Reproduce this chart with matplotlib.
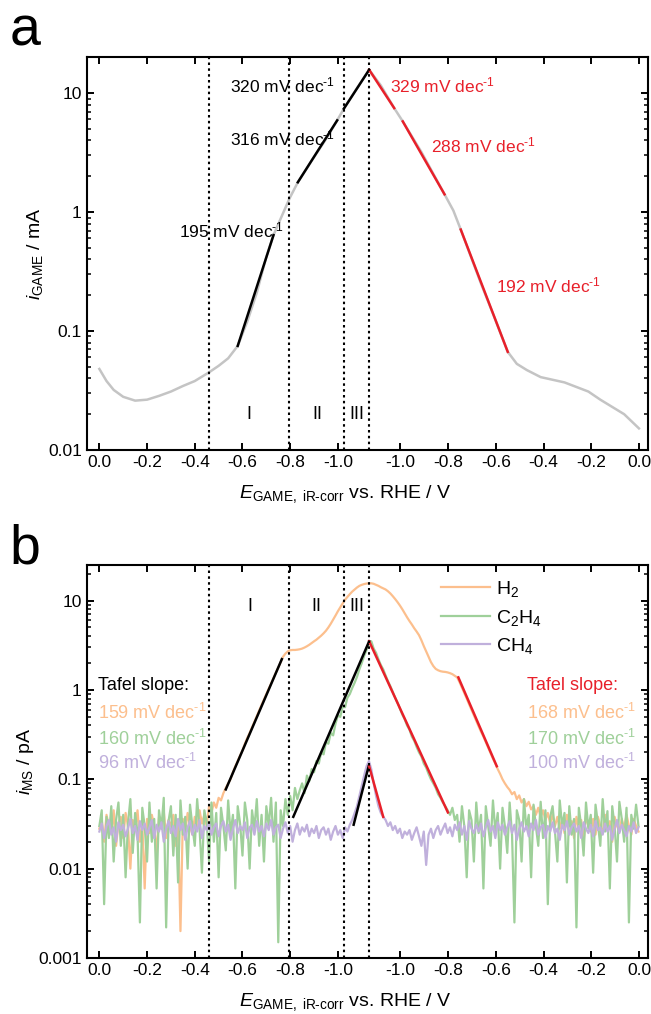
import numpy as np
import matplotlib
matplotlib.use("Agg")
import matplotlib.pyplot as plt
from matplotlib.ticker import FixedLocator, FixedFormatter, LogLocator, NullFormatter

plt.rcParams['font.family'] = ['Liberation Sans', 'DejaVu Sans']
plt.rcParams['mathtext.fontset'] = 'custom'
plt.rcParams['mathtext.rm'] = 'Liberation Sans'
plt.rcParams['mathtext.it'] = 'Liberation Sans:italic'

# sweep: 0 V -> -1.131 V -> 0 V, x axis is the path along the sweep
E_turn = 1.131
region_lines = [0.459, 0.797, 1.026, 1.131]
pot_labels = ["0.0", "-0.2", "-0.4", "-0.6", "-0.8", "-1.0"]
pot_values = [0.0, 0.2, 0.4, 0.6, 0.8, 1.0]

# panel a: GAME current (mA) along the sweep
s_game = [0.0, 0.03, 0.06, 0.10, 0.15, 0.20, 0.25, 0.30, 0.35, 0.40, 0.46, 0.50, 0.54,
          0.58, 0.62, 0.66, 0.70, 0.73, 0.76, 0.797, 0.832, 0.90, 0.95, 0.997, 1.025,
          1.08, 1.131, 1.18, 1.236, 1.272, 1.35, 1.447, 1.484, 1.515, 1.60, 1.65,
          1.712, 1.75, 1.792, 1.85, 1.95, 2.05, 2.10, 2.20, 2.262]
i_game = [0.048, 0.038, 0.032, 0.028, 0.026, 0.0265, 0.0285, 0.031, 0.0345, 0.038, 0.045,
          0.051, 0.059, 0.075, 0.12, 0.21, 0.42, 0.64, 0.88, 1.30, 1.78, 2.9, 4.1, 5.9, 7.4,
          11.0, 15.7, 11.6, 7.48, 5.78, 3.2, 1.41, 1.03, 0.713, 0.25, 0.14,
          0.0669, 0.053, 0.047, 0.041, 0.037, 0.031, 0.0265, 0.020, 0.0152]

# Tafel fit segments in panel a: (s start, i start, s end, i end, label)
fits_a_fwd = [(0.58, 0.075, 0.73, 0.64, "195"),
              (0.832, 1.78, 0.997, 5.9, "316"),
              (1.025, 7.4, 1.131, 15.7, "320")]
fits_a_rev = [(1.131, 15.7, 1.236, 7.48, "329"),
              (1.272, 5.78, 1.447, 1.41, "288"),
              (1.515, 0.713, 1.712, 0.0669, "192")]

# panel b: mass spec currents (pA), one value every 10 mV of sweep path
s_ms = np.round(np.arange(227) * 0.01, 2)
h2 = [0.028, 0.035, 0.020, 0.040, 0.030, 0.025, 0.045, 0.018, 0.032, 0.038,
      0.022, 0.042, 0.030, 0.010, 0.035, 0.028, 0.045, 0.020, 0.033, 0.006,
      0.036, 0.025, 0.040, 0.030, 0.015, 0.038, 0.028, 0.044, 0.022, 0.035,
      0.030, 0.040, 0.018, 0.032, 0.002, 0.036, 0.026, 0.042, 0.030, 0.024,
      0.038, 0.028, 0.045, 0.032, 0.040, 0.030, 0.050, 0.042, 0.055, 0.048,
      0.062, 0.058, 0.070, 0.080, 0.090, 0.100, 0.120, 0.140, 0.160, 0.185,
      0.210, 0.250, 0.290, 0.330, 0.380, 0.440, 0.510, 0.590, 0.680, 0.780,
      0.900, 1.030, 1.180, 1.360, 1.560, 1.780, 2.050, 2.350, 2.550, 2.700,
      2.780, 2.800, 2.800, 2.820, 2.850, 2.900, 2.980, 3.080, 3.200, 3.350,
      3.50, 3.65, 3.85, 4.05, 4.30, 4.60, 5.00, 5.50, 6.10, 6.80,
      7.60, 8.40, 9.30, 10.2, 11.0, 11.8, 12.6, 13.3, 14.0, 14.6,
      15.0, 15.3, 15.5, 15.6, 15.6, 15.4, 15.0, 14.6, 14.1, 13.7,
      13.3, 12.7, 12.0, 11.2, 10.4, 9.60, 8.80, 8.00, 7.20, 6.50,
      5.90, 5.40, 4.90, 4.50, 4.10, 3.60, 3.10, 2.70, 2.35, 2.05,
      1.85, 1.72, 1.66, 1.62, 1.60, 1.59, 1.57, 1.54, 1.50, 1.44,
      1.38, 1.22, 1.06, 0.920, 0.800, 0.690, 0.600, 0.520, 0.450, 0.390,
      0.340, 0.300, 0.260, 0.225, 0.195, 0.170, 0.150, 0.130, 0.115, 0.100,
      0.090, 0.082, 0.076, 0.068, 0.072, 0.060, 0.066, 0.055, 0.060, 0.050,
      0.056, 0.046, 0.050, 0.040, 0.048, 0.038, 0.045, 0.035, 0.042, 0.032,
      0.040, 0.030, 0.038, 0.028, 0.036, 0.025, 0.040, 0.030, 0.034, 0.022,
      0.038, 0.028, 0.035, 0.020, 0.040, 0.030, 0.026, 0.036, 0.024, 0.038,
      0.030, 0.025, 0.040, 0.028, 0.034, 0.020, 0.038, 0.030, 0.026, 0.036,
      0.028, 0.040, 0.030, 0.024, 0.036, 0.030, 0.026]
c2h4 = [0.030, 0.045, 0.004, 0.038, 0.022, 0.050, 0.012, 0.035, 0.055, 0.018,
        0.040, 0.008, 0.032, 0.060, 0.015, 0.042, 0.025, 0.0025, 0.048, 0.030,
        0.012, 0.055, 0.020, 0.036, 0.006, 0.045, 0.028, 0.062, 0.0022, 0.034,
        0.050, 0.014, 0.040, 0.007, 0.058, 0.024, 0.038, 0.010, 0.052, 0.030,
        0.018, 0.060, 0.028, 0.009, 0.045, 0.033, 0.012, 0.055, 0.020, 0.042,
        0.008, 0.048, 0.030, 0.016, 0.058, 0.025, 0.040, 0.006, 0.050, 0.032,
        0.014, 0.055, 0.035, 0.010, 0.045, 0.028, 0.060, 0.018, 0.040, 0.012,
        0.050, 0.030, 0.062, 0.020, 0.055, 0.0015, 0.045, 0.030, 0.060, 0.040,
        0.065, 0.045, 0.080, 0.060, 0.075, 0.090, 0.070, 0.110, 0.095, 0.130,
        0.120, 0.160, 0.150, 0.200, 0.190, 0.260, 0.250, 0.330, 0.310, 0.420,
        0.520, 0.500, 0.650, 0.640, 0.820, 0.900, 1.050, 1.200, 1.400, 1.700,
        2.000, 2.400, 2.800, 3.300, 3.500, 2.900, 2.600, 2.200, 1.900, 1.700,
        1.450, 1.250, 1.100, 0.950, 0.820, 0.720, 0.620, 0.530, 0.470, 0.400,
        0.360, 0.300, 0.270, 0.230, 0.200, 0.180, 0.150, 0.135, 0.115, 0.100,
        0.090, 0.080, 0.068, 0.062, 0.055, 0.050, 0.045, 0.040, 0.048, 0.035,
        0.040, 0.020, 0.050, 0.030, 0.008, 0.045, 0.035, 0.012, 0.055, 0.025,
        0.040, 0.006, 0.050, 0.030, 0.018, 0.058, 0.026, 0.042, 0.010, 0.048,
        0.030, 0.015, 0.055, 0.024, 0.0025, 0.045, 0.035, 0.012, 0.060, 0.028,
        0.040, 0.008, 0.052, 0.030, 0.018, 0.056, 0.022, 0.045, 0.004, 0.038,
        0.050, 0.026, 0.012, 0.058, 0.030, 0.042, 0.007, 0.050, 0.024, 0.036,
        0.0022, 0.048, 0.030, 0.014, 0.055, 0.028, 0.040, 0.009, 0.052, 0.032,
        0.018, 0.060, 0.026, 0.044, 0.006, 0.050, 0.030, 0.012, 0.056, 0.036,
        0.020, 0.048, 0.0025, 0.040, 0.028, 0.052, 0.030]
ch4 = [0.026, 0.032, 0.022, 0.030, 0.035, 0.024, 0.029, 0.020, 0.033, 0.027,
       0.031, 0.023, 0.028, 0.036, 0.025, 0.030, 0.021, 0.034, 0.027, 0.032,
       0.024, 0.029, 0.035, 0.022, 0.031, 0.026, 0.033, 0.020, 0.028, 0.034,
       0.025, 0.030, 0.023, 0.036, 0.027, 0.032, 0.021, 0.029, 0.034, 0.024,
       0.031, 0.026, 0.035, 0.022, 0.030, 0.027, 0.033, 0.024, 0.029, 0.032,
       0.023, 0.030, 0.034, 0.026, 0.031, 0.021, 0.028, 0.035, 0.025, 0.030,
       0.027, 0.033, 0.022, 0.029, 0.031, 0.024, 0.034, 0.026, 0.030, 0.023,
       0.032, 0.027, 0.035, 0.024, 0.029, 0.031, 0.022, 0.028, 0.033, 0.025,
       0.030, 0.020, 0.027, 0.032, 0.024, 0.029, 0.026, 0.031, 0.023, 0.028,
       0.025, 0.030, 0.022, 0.027, 0.029, 0.024, 0.028, 0.021, 0.026, 0.030,
       0.024, 0.027, 0.022, 0.029, 0.026, 0.031, 0.035, 0.042, 0.050, 0.065,
       0.085, 0.110, 0.140, 0.160, 0.130, 0.090, 0.065, 0.050, 0.042, 0.038,
       0.035, 0.030, 0.033, 0.027, 0.030, 0.025, 0.028, 0.022, 0.026, 0.024,
       0.027, 0.021, 0.025, 0.029, 0.023, 0.018, 0.026, 0.011, 0.024, 0.028,
       0.022, 0.027, 0.030, 0.024, 0.028, 0.032, 0.025, 0.029, 0.023, 0.031,
       0.027, 0.033, 0.024, 0.030, 0.021, 0.034, 0.028, 0.025, 0.031, 0.026,
       0.032, 0.023, 0.029, 0.035, 0.026, 0.030, 0.022, 0.033, 0.027, 0.031,
       0.024, 0.029, 0.034, 0.025, 0.031, 0.021, 0.028, 0.033, 0.026, 0.030,
       0.023, 0.032, 0.027, 0.035, 0.024, 0.029, 0.031, 0.022, 0.030, 0.026,
       0.033, 0.025, 0.028, 0.021, 0.031, 0.027, 0.034, 0.024, 0.029, 0.032,
       0.026, 0.030, 0.022, 0.033, 0.028, 0.025, 0.031, 0.023, 0.034, 0.027,
       0.029, 0.024, 0.032, 0.026, 0.030, 0.021, 0.028, 0.035, 0.025, 0.031,
       0.027, 0.023, 0.030, 0.026, 0.033, 0.025, 0.029]

# Tafel fits panel b: (s start, i start, s end, i end)
fits_b_fwd = {"H2": (0.530, 0.077, 0.765, 2.21),
              "C2H4": (0.813, 0.038, 1.131, 3.5),
              "CH4": (1.066, 0.031, 1.129, 0.14)}
fits_b_rev = {"H2": (1.505, 1.38, 1.666, 0.14),
              "C2H4": (1.131, 3.5, 1.461, 0.0426),
              "CH4": (1.131, 0.14, 1.19, 0.038)}
slopes_fwd = {"H2": "159", "C2H4": "160", "CH4": "96"}
slopes_rev = {"H2": "168", "C2H4": "170", "CH4": "100"}

colors = {"H2": "#fcbf8d", "C2H4": "#9fd09a", "CH4": "#c0b0dc"}
red = "#e8202a"
gray = "#c4c4c4"
dec = r" mV dec$^{\text{-}1}$"

fig = plt.figure(figsize=(6.51, 10.14), dpi=100)
ax_a = fig.add_axes([0.1332, 0.5562, 0.8622, 0.3873])
ax_b = fig.add_axes([0.1332, 1 - 958 / 1014, 0.8622, 393 / 1014])

tick_pos = [p for p in pot_values] + [2 * E_turn - p for p in pot_values[::-1]]
tick_lab = pot_labels + pot_labels[::-1]


def style_axis(ax, ylo, yhi, yticks, ylabels):
    ax.set_yscale("log")
    ax.set_xlim(-0.053, 2 * E_turn + 0.038)
    ax.set_ylim(ylo, yhi)
    ax.xaxis.set_major_locator(FixedLocator(tick_pos))
    ax.xaxis.set_major_formatter(FixedFormatter(tick_lab))
    ax.yaxis.set_major_locator(FixedLocator(yticks))
    ax.yaxis.set_major_formatter(FixedFormatter(ylabels))
    ax.yaxis.set_minor_locator(LogLocator(base=10, subs=np.arange(2, 10)))
    ax.yaxis.set_minor_formatter(NullFormatter())
    ax.tick_params(which="both", direction="in", top=True, right=True, labelsize=12.5)
    ax.tick_params(which="major", length=5, width=1.4)
    ax.tick_params(which="minor", length=3, width=1.1)
    for sp in ax.spines.values():
        sp.set_linewidth(1.5)
    for xv in region_lines:
        ax.axvline(xv, color="black", ls=(0, (1.2, 1.6)), lw=1.5, zorder=5)
    ax.set_xlabel(r"$E_{\rm GAME,\ iR\text{-}corr}$ vs. RHE / V", fontsize=14, labelpad=8)
    ax.xaxis.set_label_coords(0.46, -0.085)


# ---- panel a ----
ax_a.plot(s_game, i_game, color=gray, lw=1.8, zorder=2)
for s0, i0, s1, i1, lab in fits_a_fwd:
    ax_a.plot([s0, s1], [i0, i1], color="black", lw=1.8, zorder=3)
for s0, i0, s1, i1, lab in fits_a_rev:
    ax_a.plot([s0, s1], [i0, i1], color=red, lw=1.8, zorder=3)
style_axis(ax_a, 0.01, 20, [0.01, 0.1, 1, 10], ["0.01", "0.1", "1", "10"])
ax_a.set_ylabel(r"$i_{\rm GAME}$ / mA", fontsize=14, labelpad=2)

txt_a = [(0.548, 11.6, "320", "black"), (0.548, 4.19, "316", "black"),
         (0.334, 0.703, "195", "black"), (1.220, 11.6, "329", red),
         (1.391, 3.64, "288", red), (1.663, 0.24, "192", red)]
for x, y, lab, c in txt_a:
    ax_a.text(x, y, lab + dec, color=c, fontsize=12.5, va="center", ha="left", zorder=6)
for x, lab in [(0.628, "I"), (0.912, "II"), (1.079, "III")]:
    ax_a.text(x, 0.0197, lab, fontsize=13, ha="center", va="center")

# ---- panel b ----
for gas, vals, lab in [("H2", h2, r"H$_2$"), ("C2H4", c2h4, r"C$_2$H$_4$"), ("CH4", ch4, r"CH$_4$")]:
    ax_b.plot(s_ms, vals, color=colors[gas], lw=1.6, label=lab, zorder=2)
for gas in ["H2", "C2H4", "CH4"]:
    s0, i0, s1, i1 = fits_b_fwd[gas]
    ax_b.plot([s0, s1], [i0, i1], color="black", lw=1.8, zorder=3)
    s0, i0, s1, i1 = fits_b_rev[gas]
    ax_b.plot([s0, s1], [i0, i1], color=red, lw=1.8, zorder=3)
style_axis(ax_b, 0.001, 25, [0.001, 0.01, 0.1, 1, 10], ["0.001", "0.01", "0.1", "1", "10"])
ax_b.set_ylabel(r"$i_{\rm MS}$ / pA", fontsize=14, labelpad=2)

ax_b.legend(loc="upper left", bbox_to_anchor=(0.632, 0.965), frameon=False, fontsize=14,
            handlelength=2.5, handletextpad=0.3, labelspacing=0.45, borderpad=0, borderaxespad=0)

for x, lab in [(0.629, "I"), (0.909, "II"), (1.08, "III")]:
    ax_b.text(x, 8.5, lab, fontsize=13, ha="center", va="center")

ax_b.text(-0.005, 1.11, "Tafel slope:", fontsize=13, color="black", va="center")
ax_b.text(1.792, 1.11, "Tafel slope:", fontsize=13, color=red, va="center")
for gas, y in [("H2", 0.547), ("C2H4", 0.284), ("CH4", 0.153)]:
    ax_b.text(-0.005, y, slopes_fwd[gas] + dec, fontsize=13, color=colors[gas], va="center")
    ax_b.text(1.792, y, slopes_rev[gas] + dec, fontsize=13, color=colors[gas], va="center")

fig.text(0.015, 1 - 45 / 1014, "a", fontsize=40, va="baseline")
fig.text(0.015, 1 - 563 / 1014, "b", fontsize=40, va="baseline")

fig.savefig("out.png", dpi=100)
